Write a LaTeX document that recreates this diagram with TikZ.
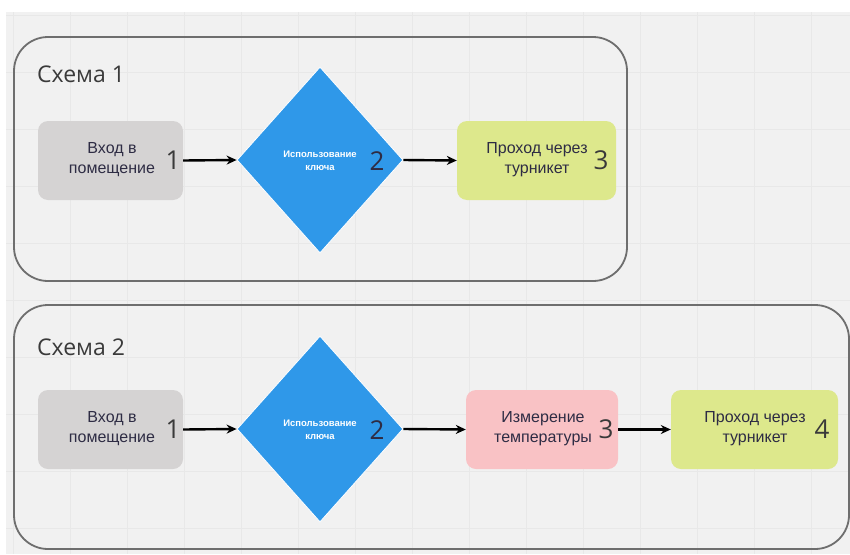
\documentclass[tikz,border=0pt]{standalone}
\usepackage{fontspec}
\setmainfont{Liberation Sans}
\newfontfamily\titlefont{Open Sans}
\usetikzlibrary{shapes.geometric,arrows.meta}
\definecolor{bggray}{HTML}{F1F1F1}
\definecolor{gridc}{HTML}{E8E8E8}
\definecolor{framec}{HTML}{6E6E6E}
\definecolor{graybox}{HTML}{D5D3D3}
\definecolor{bluebox}{HTML}{2F98E9}
\definecolor{greenbox}{HTML}{DDE88C}
\definecolor{pinkbox}{HTML}{F9C2C5}
\definecolor{txtc}{HTML}{2E2C44}
\definecolor{numc}{HTML}{3A3A3A}
\tikzset{
  frame/.style={draw=framec,line width=1.8pt,rounded corners=34pt},
  stepbox/.style={rounded corners=10pt,minimum height=79pt,inner sep=0pt},
  keyshape/.style={diamond,fill=bluebox,draw=white,line width=0.8pt,minimum width=166pt,minimum height=186pt,inner sep=0pt},
  boxtext/.style={align=center,text=txtc,font=\fontsize{16}{20}\selectfont,inner sep=0pt},
  keytext/.style={align=center,text=white,font=\bfseries\fontsize{9.5}{13}\selectfont,inner sep=0pt},
  numtext/.style={text=numc,font=\titlefont\fontsize{26}{26}\selectfont,inner sep=0pt},
  titletext/.style={text=numc,font=\titlefont\fontsize{23}{23}\selectfont,anchor=west,inner sep=0pt},
  flow/.style={-{Stealth[length=10pt,width=9pt]},line width=2.4pt,black}
}
\begin{document}
\begin{tikzpicture}[x=1pt,y=-1pt]
\useasboundingbox (0,0) rectangle (850,554);
\fill[white] (0,0) rectangle (850,554);
\fill[bggray] (6,12) rectangle (850,554);
\foreach \gx in {13,70,127,184,241,298,355,412,469,526,583,640,697,754,811}
  \draw[gridc,line width=0.6pt] (\gx,12) -- (\gx,554);
\foreach \gy in {15,72,129,186,243,300,357,414,471,528}
  \draw[gridc,line width=0.6pt] (6,\gy) -- (850,\gy);

% frames
\draw[frame] (14,37) rectangle (627,281);
\draw[frame] (14,305) rectangle (849,549);
\node[titletext] (t1) at (37,74) {Схема 1};
\node[titletext] (t2) at (37,347) {Схема 2};

% scheme 1
\node[stepbox,fill=graybox,minimum width=145pt] (a1) at (110.5,160.5) {};
\node[boxtext] (a1t) at (112,160) {Вход в\\помещение};
\node[numtext] (a1n) at (173,160) {1};
\node[keyshape] (b1) at (320,160) {};
\node[keytext] (b1t) at (320,161) {Использование\\ключа};
\node[numtext,text=txtc] (b1n) at (377,161) {2};
\node[stepbox,fill=greenbox,minimum width=159pt] (c1) at (536.5,160.5) {};
\node[boxtext] (c1t) at (537,160) {Проход через\\турникет};
\node[numtext] (c1n) at (601,160) {3};
\draw[flow] (a1.east) -- (b1.west);
\draw[flow] (b1.east) -- (c1.west);

% scheme 2
\node[stepbox,fill=graybox,minimum width=145pt] (a2) at (110.5,429.5) {};
\node[boxtext] (a2t) at (112,429) {Вход в\\помещение};
\node[numtext] (a2n) at (173,429) {1};
\node[keyshape] (b2) at (320,429) {};
\node[keytext] (b2t) at (320,430) {Использование\\ключа};
\node[numtext,text=txtc] (b2n) at (377,430) {2};
\node[stepbox,fill=pinkbox,minimum width=152pt] (c2) at (542,429.5) {};
\node[boxtext] (c2t) at (543,429) {Измерение\\температуры};
\node[numtext] (c2n) at (606,429) {3};
\node[stepbox,fill=greenbox,minimum width=167pt] (d2) at (754.5,429.5) {};
\node[boxtext] (d2t) at (755,429) {Проход через\\турникет};
\node[numtext] (d2n) at (822,429) {4};
\draw[flow] (a2.east) -- (b2.west);
\draw[flow] (b2.east) -- (c2.west);
\draw[flow] (c2.east) -- (d2.west);
\end{tikzpicture}
\end{document}
